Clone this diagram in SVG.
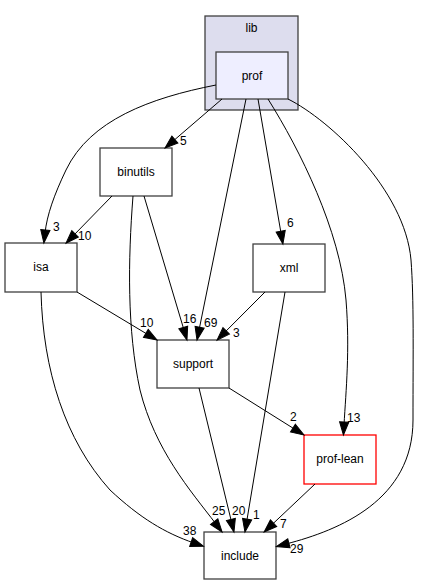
<svg xmlns="http://www.w3.org/2000/svg" width="421" height="585" viewBox="0 0 421 585">
<defs>
<style>
.n rect{fill:#ffffff;stroke:#404040;stroke-width:1.3}
text{font-family:"Liberation Sans",Arial,sans-serif;font-size:12px;fill:#000}
.n text{text-anchor:middle}
.e path{fill:none;stroke:#000;stroke-width:1}
</style>
<marker id="ah" markerUnits="userSpaceOnUse" markerWidth="14" markerHeight="10" refX="3" refY="4.6" orient="auto" overflow="visible">
<path d="M0,0 L13,4.6 L0,9.2 Z" fill="#000" stroke="#000" stroke-width="1"/>
</marker>
</defs>
<rect width="421" height="585" fill="#ffffff"/>
<g id="cluster_lib">
<rect x="205" y="16" width="93" height="94" fill="#ddddee" stroke="#404040" stroke-width="1.3"/>
<text x="251.5" y="32" text-anchor="middle">lib</text>
</g>
<g id="prof" class="n">
<rect x="216" y="52" width="72" height="47" style="fill:#eeeeff"/>
<text x="252" y="80">prof</text>
</g>
<g id="binutils" class="n">
<rect x="100" y="148" width="72" height="48"/>
<text x="136" y="176">binutils</text>
</g>
<g id="isa" class="n">
<rect x="5" y="243" width="72" height="49"/>
<text x="41" y="271">isa</text>
</g>
<g id="xml" class="n">
<rect x="253" y="244" width="72" height="48"/>
<text x="289" y="272">xml</text>
</g>
<g id="support" class="n">
<rect x="157" y="340" width="72" height="48"/>
<text x="193" y="368">support</text>
</g>
<g id="prof-lean" class="n">
<rect x="304" y="435" width="72" height="49" style="stroke:#ff0000"/>
<text x="340" y="463">prof-lean</text>
</g>
<g id="include" class="n">
<rect x="204" y="532" width="72" height="47"/>
<text x="240" y="560">include</text>
</g>
<g id="edges" class="e">
<path marker-end="url(#ah)" d="M216,85 C150,98 90,120 66,170 C54,195 47,215 45,233"/>
<text x="53" y="231">3</text>
<path marker-end="url(#ah)" d="M222,99 L172.6,141.5"/>
<text x="180" y="145">5</text>
<path marker-end="url(#ah)" d="M246,99 L199,330.2"/>
<text x="204" y="327">69</text>
<path marker-end="url(#ah)" d="M258,99 L281.2,234.2"/>
<text x="287" y="227">6</text>
<path marker-end="url(#ah)" d="M268,99 C300,150 340,230 346,300 C350,350 346,390 344,425"/>
<text x="347" y="422">13</text>
<path marker-end="url(#ah)" d="M288,99 C330,120 405,190 411,260 C414,300 413,350 413,420 C413,500 340,530 286,544"/>
<text x="290" y="553">29</text>
<path marker-end="url(#ah)" d="M112,196 L73,236"/>
<text x="78" y="240">10</text>
<path marker-end="url(#ah)" d="M144,196 L184.1,330.4"/>
<text x="183" y="323">16</text>
<path marker-end="url(#ah)" d="M133,196 C128,260 127,330 140,390 C155,450 190,490 216,524"/>
<text x="212" y="515">25</text>
<path marker-end="url(#ah)" d="M77,292 L148.4,334.9"/>
<text x="140" y="327">10</text>
<path marker-end="url(#ah)" d="M41,292 C43,370 65,440 110,490 C140,518 165,533 194,543"/>
<text x="183" y="535">38</text>
<path marker-end="url(#ah)" d="M265,292 L224.1,333"/>
<text x="233" y="337">3</text>
<path marker-end="url(#ah)" d="M285,292 L246.6,522.1"/>
<text x="253" y="519">1</text>
<path marker-end="url(#ah)" d="M199,388 L231.6,522.3"/>
<text x="232" y="515">20</text>
<path marker-end="url(#ah)" d="M229,388 L295.5,429.7"/>
<text x="290" y="421">2</text>
<path marker-end="url(#ah)" d="M315,484 L271.4,525.2"/>
<text x="280" y="528">7</text>
</g>
</svg>
